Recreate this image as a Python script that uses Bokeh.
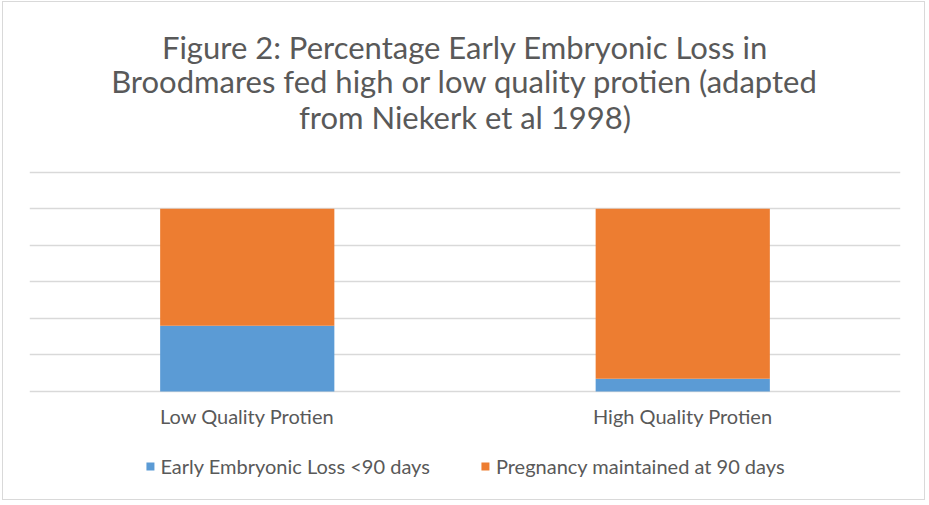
from bokeh.plotting import figure
from bokeh.models import Legend, LegendItem, FixedTicker, ColumnDataSource
from bokeh.core.properties import value
from bokeh.embed import file_html
from bokeh.resources import INLINE

categories = ["Low Quality Protien", "High Quality Protien"]
early_loss = [36, 7]
maintained = [64, 93]
series_names = ["Early Embryonic Loss <90 days", "Pregnancy maintained at 90 days"]
colors = ["#5b9bd5", "#ed7d31"]
title_lines = [
    "Figure 2: Percentage Early Embryonic Loss in",
    "Broodmares fed high or low quality protien (adapted",
    "from Niekerk et al 1998)",
]
y_ticks = [0, 20, 40, 60, 80, 100, 120]

FONT = "Lato"
TXT = "#595959"

source = ColumnDataSource(dict(cat=categories, early=early_loss, maint=maintained,
                               lab=categories, ly=[-13.7] * len(categories)))
# title lines centred over the whole plot area (synthetic x = 1.0 is the middle of the two factors)
title_src = ColumnDataSource(dict(tx=[1.0] * len(title_lines), ty=[188.8, 169.7, 150.0],
                                  txt=title_lines))

p = figure(x_range=categories, y_range=(-59.7, 212.9), width=923, height=499,
           output_backend="svg", toolbar_location=None, title=None,
           min_border_left=26, min_border_right=26, min_border_top=0, min_border_bottom=1)

r = p.vbar_stack(["early", "maint"], x="cat", width=0.4, source=source,
                 color=colors, line_color=None)

p.text(x="tx", y="ty", text="txt", source=title_src, text_font=value(FONT),
       text_font_size="31px", text_color=TXT, text_align="center", text_baseline="middle")
p.text(x="cat", y="ly", text="lab", source=source, text_font=value(FONT),
       text_font_size="20px", text_color=TXT, text_align="center", text_baseline="middle")

p.outline_line_color = None
p.xaxis.visible = False
p.yaxis.visible = False
p.xgrid.visible = False
p.ygrid.ticker = FixedTicker(ticks=y_ticks)
p.ygrid.grid_line_color = "#d9d9d9"
p.ygrid.grid_line_width = 1.5

legend = Legend(items=[LegendItem(label=series_names[i], renderers=[r[i]]) for i in range(2)],
                orientation="horizontal", location="bottom_center", border_line_color=None,
                label_text_font=FONT, label_text_font_size="20px", label_text_color=TXT,
                glyph_width=10, glyph_height=10, label_standoff=6, spacing=50,
                margin=22, padding=10, background_fill_alpha=0)
p.add_layout(legend)

p.styles = {"border": "1px solid #d9d9d9", "margin": "1px 0 0 2px"}

open("out.html", "w").write(file_html(p, INLINE))
